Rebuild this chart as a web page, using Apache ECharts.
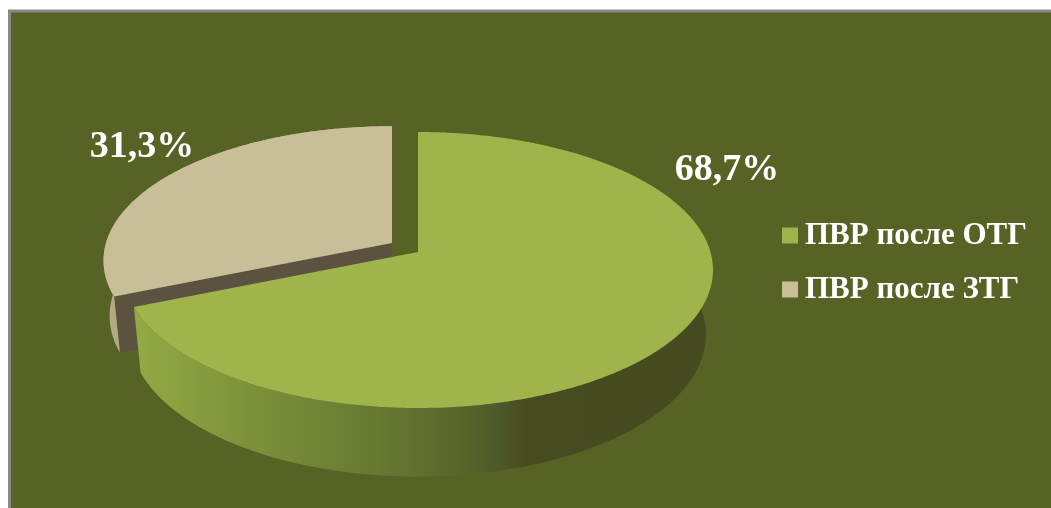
<!DOCTYPE html>
<html>
<head>
<meta charset="utf-8">
<style>html,body{margin:0;padding:0;background:#fff}#chart{width:1051px;height:508px}</style>
<script src="https://cdn.jsdelivr.net/npm/echarts@6/dist/echarts.min.js"></script>
</head>
<body>
<div id="chart"></div>
<script>
// Share of each group, percent
const categories = ['ПВР после ОТГ', 'ПВР после ЗТГ'];
const shares = [68.7, 31.3];
const topColors = ['#9FB54C', '#C8BE97'];
const labelAnchors = [[727, 170], [142, 147]];

// Perspective projection of the unit disc: the near edge looks larger than the far edge
const tilt = 0.1304;
// Upper and lower outline of each slice; the second slice sits apart from the first
const sliceFaces = [
  { top: { x: 418, y: 252, a: 292.5, b: 135.65 }, base: { x: 418, y: 316, a: 285.5, b: 139.6 } },
  { top: { x: 392, y: 243, a: 286, b: 132 }, base: { x: 392, y: 298, a: 280, b: 135 } }
];

function project(face, deg) {
  const t = deg * Math.PI / 180;
  const w = 1 + tilt * Math.cos(t);
  return [face.x + face.a * Math.sin(t) / w, face.y - face.b * Math.cos(t) / w];
}
function rim(face, from, to) {
  const pts = [];
  const steps = Math.ceil(Math.abs(to - from) * 2);
  for (let i = 0; i <= steps; i++) pts.push(project(face, from + (to - from) * i / steps));
  return pts;
}

const greenWall = new echarts.graphic.LinearGradient(138, 0, 708, 0, [
  { offset: 0, color: '#93A944' },
  { offset: 0.2, color: '#7D9039' },
  { offset: 0.42, color: '#677932' },
  { offset: 0.58, color: '#58632A' },
  { offset: 0.63, color: '#4C5A2B' },
  { offset: 0.68, color: '#484B20' },
  { offset: 1, color: '#464A20' }
], true);
const wallStyles = [
  { outer: greenWall, cut: '#464A20' },
  { outer: '#B3AA85', cut: '#5B5340' }
];

function sliceRenderer(index) {
  const total = shares.reduce((s, v) => s + v, 0);
  const before = shares.slice(0, index).reduce((s, v) => s + v, 0);
  return function (params, api) {
    const start = before / total * 360;
    const end = start + api.value(0) / total * 360;
    const faces = sliceFaces[index];
    const topRim = rim(faces.top, start, end);
    const baseRim = rim(faces.base, start, end);
    const topApex = [faces.top.x, faces.top.y];
    const baseApex = [faces.base.x, faces.base.y];
    const children = [];
    // Cut face along the radial edge where the slice begins
    children.push({
      type: 'polygon',
      shape: { points: [topApex, topRim[0], baseRim[0], baseApex] },
      style: { fill: wallStyles[index].cut }
    });
    // Outer wall
    children.push({
      type: 'polygon',
      shape: { points: topRim.concat(baseRim.slice().reverse()) },
      style: { fill: wallStyles[index].outer }
    });
    // Top face
    children.push({
      type: 'polygon',
      shape: { points: [topApex].concat(topRim) },
      style: { fill: api.visual('color') }
    });
    children.push({
      type: 'text',
      x: labelAnchors[index][0],
      y: labelAnchors[index][1],
      style: {
        text: api.value(0).toFixed(1).replace('.', ',') + '%',
        fill: '#fff',
        font: 'bold 38px "Liberation Serif"',
        align: 'center',
        verticalAlign: 'middle'
      }
    });
    return { type: 'group', children };
  };
}
// Paint the far slice first so the near one overlaps its cut face
const drawOrder = [1, 0];
const series = drawOrder.map(i => ({
  type: 'custom',
  name: categories[i],
  coordinateSystem: 'none',
  itemStyle: { color: topColors[i] },
  renderItem: sliceRenderer(i),
  silent: true,
  animation: false,
  data: [[shares[i]]]
}));

const chart = echarts.init(document.getElementById('chart'), null, { renderer: 'canvas' });
chart.setOption({
  backgroundColor: '#fff',
  animation: false,
  graphic: [{
    type: 'rect',
    z: -1,
    shape: { x: 9.5, y: 11, width: 1100, height: 600 },
    style: { fill: '#566325', stroke: '#8A8A84', lineWidth: 3 }
  }],
  legend: {
    data: categories,
    orient: 'vertical',
    left: 777,
    top: 215,
    itemWidth: 16,
    itemHeight: 16,
    itemGap: 23,
    icon: 'rect',
    selectedMode: false,
    textStyle: { color: '#fff', fontFamily: 'Liberation Serif', fontWeight: 'bold', fontSize: 31, padding: [0, 0, 0, 2] }
  },
  series
});
</script>
</body>
</html>
